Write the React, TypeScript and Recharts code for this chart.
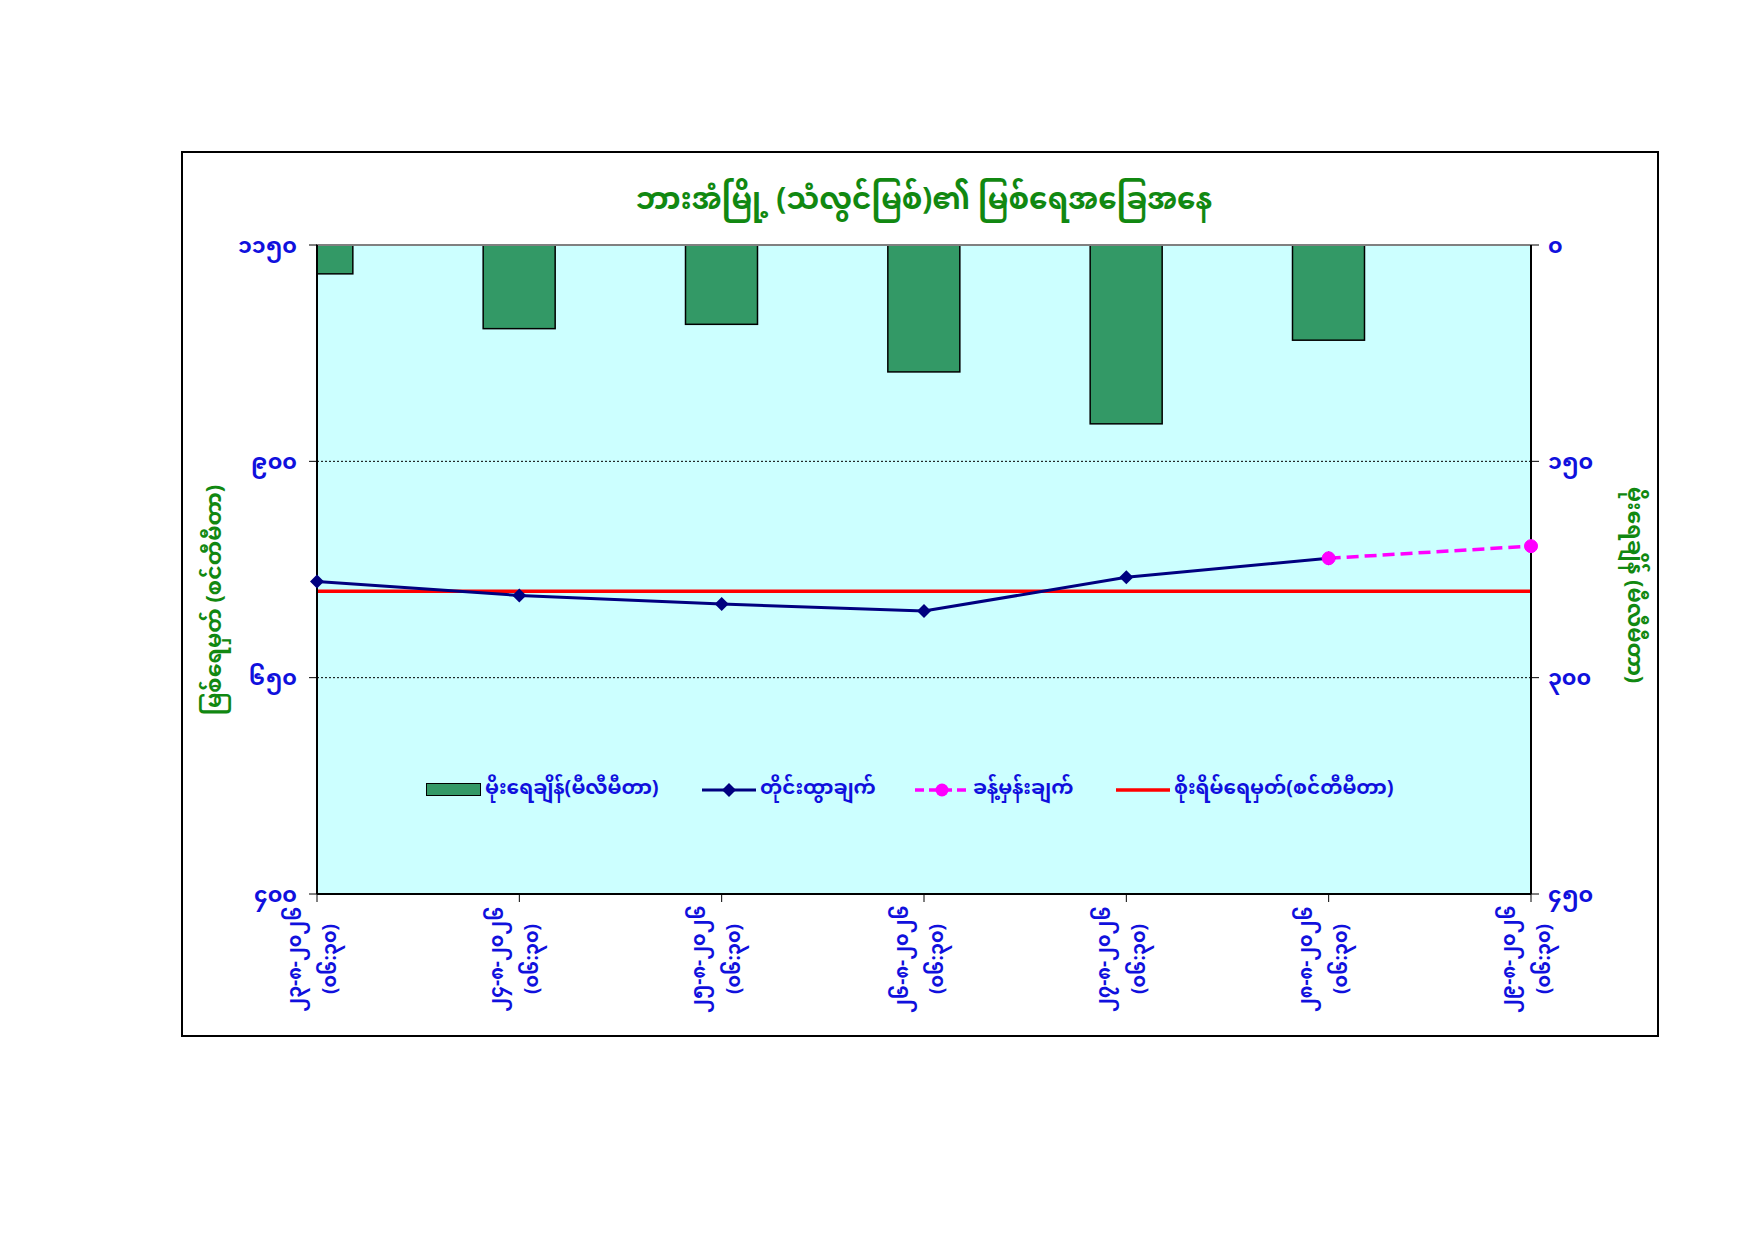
import React from "react";
import {
  ComposedChart,
  Bar,
  Line,
  XAxis,
  YAxis,
  CartesianGrid,
  ReferenceLine,
  Legend,
} from "recharts";

// ---- data ----
const DATES = [
  "၂၃-၈-၂၀၂၆",
  "၂၄-၈-၂၀၂၆",
  "၂၅-၈-၂၀၂၆",
  "၂၆-၈-၂၀၂၆",
  "၂၇-၈-၂၀၂၆",
  "၂၈-၈-၂၀၂၆",
  "၂၉-၈-၂၀၂၆",
];
const TIME_LABEL = "(၀၆:၃၀)";
const RAINFALL = [20, 58, 55, 88, 124, 66, null]; // mm
const WATER_LEVEL = [761, 745, 735, 727, 766, 788, null]; // cm
const FORECAST = [null, null, null, null, null, 788, 802]; // cm
const DANGER_LEVEL = 750; // cm
const LEVEL_TICKS = [400, 650, 900, 1150];
const RAIN_TICKS = [0, 150, 300, 450];

const TITLE = "ဘားအံမြို့ (သံလွင်မြစ်)၏ မြစ်ရေအခြေအနေ";
const LEFT_TITLE = "မြစ်ရေမှတ် (စင်တီမီတာ)";
const RIGHT_TITLE = "မိုးရေချိန် (မီလီမီတာ)";
const LEGEND_NAMES = [
  "မိုးရေချိန်(မီလီမီတာ)",
  "တိုင်းထွာချက်",
  "ခန့်မှန်းချက်",
  "စိုးရိမ်ရေမှတ်(စင်တီမီတာ)",
];

const data = DATES.map((d, i) => ({
  idx: i,
  rain: RAINFALL[i],
  level: WATER_LEVEL[i],
  forecast: FORECAST[i],
  danger: DANGER_LEVEL,
}));

const MM_DIGITS = "၀၁၂၃၄၅၆၇၈၉";
const toMyanmar = (n: number) =>
  String(n).replace(/[0-9]/g, (c) => MM_DIGITS[Number(c)]);

const FONT = "'Noto Sans Myanmar', Padauk, 'Myanmar Text', 'Noto Sans', sans-serif";
const BLUE = "#1010DD";
const GREEN = "#118811";

const W = 1738;
const H = 1225;
const PLOT_LEFT = 309;
const PLOT_RIGHT = 1523;
const AXIS_W = 90;

function XTick({ x, y, payload }: any) {
  const i = payload.value;
  return (
    <g transform={`translate(${x},${y})`}>
      <text
        transform={`translate(-21, 57) rotate(-90)`}
        textAnchor="middle"
        dominantBaseline="central"
        fill={BLUE}
        fontSize={19}
        fontWeight={700}
        fontFamily={FONT}
      >
        {DATES[i]}
      </text>
      <text
        transform={`translate(14, 57) rotate(-90)`}
        textAnchor="middle"
        dominantBaseline="central"
        fill={BLUE}
        fontSize={19}
        fontWeight={700}
        fontFamily={FONT}
      >
        {TIME_LABEL}
      </text>
    </g>
  );
}

function Diamond({ cx, cy }: any) {
  if (cx == null || cy == null) return null;
  const s = 7;
  return (
    <polygon
      points={`${cx},${cy - s} ${cx + s},${cy} ${cx},${cy + s} ${cx - s},${cy}`}
      fill="#000080"
    />
  );
}

function RainBar({ x, y, width, height }: any) {
  if (!height) return null;
  const x0 = Math.max(x, PLOT_LEFT);
  const x1 = Math.min(x + width, PLOT_RIGHT);
  const top = Math.min(y, y + height);
  return (
    <rect
      x={x0}
      y={top}
      width={x1 - x0}
      height={Math.abs(height)}
      fill="#339966"
      stroke="#000"
      strokeWidth={1.5}
    />
  );
}

function LegendBox() {
  const text = {
    color: BLUE,
    fontFamily: FONT,
    fontWeight: 700,
    fontSize: 20,
    whiteSpace: "nowrap" as const,
  };
  const item = { display: "flex", alignItems: "center" };
  return (
    <div style={{ display: "flex", alignItems: "center" }}>
      <div style={{ ...item, width: 276 }}>
        <span style={{ width: 53, height: 11, background: "#339966", border: "1.5px solid #000", marginRight: 4 }} />
        <span style={text}>{LEGEND_NAMES[0]}</span>
      </div>
      <div style={{ ...item, width: 213 }}>
        <svg width={56} height={16} style={{ marginRight: 2 }}>
          <line x1={0} y1={8} x2={54} y2={8} stroke="#000080" strokeWidth={3} />
          <polygon points="27,1 34,8 27,15 20,8" fill="#000080" />
        </svg>
        <span style={text}>{LEGEND_NAMES[1]}</span>
      </div>
      <div style={{ ...item, width: 201 }}>
        <svg width={56} height={16} style={{ marginRight: 2 }}>
          <line x1={0} y1={8} x2={54} y2={8} stroke="#FF00FF" strokeWidth={3.5} strokeDasharray="9 5" />
          <circle cx={27} cy={8} r={6.5} fill="#FF00FF" />
        </svg>
        <span style={text}>{LEGEND_NAMES[2]}</span>
      </div>
      <div style={{ ...item }}>
        <svg width={56} height={16} style={{ marginRight: 2 }}>
          <line x1={0} y1={8} x2={54} y2={8} stroke="#FF0000" strokeWidth={3.5} />
        </svg>
        <span style={text}>{LEGEND_NAMES[3]}</span>
      </div>
    </div>
  );
}

export default function App() {
  return (
    <div style={{ position: "relative", width: W, height: H, fontFamily: FONT }}>
      <div
        style={{
          position: "absolute",
          left: 173,
          top: 143,
          width: 1478,
          height: 886,
          border: "2px solid #000",
          boxSizing: "border-box",
        }}
      />
      <div
        style={{
          position: "absolute",
          left: 0,
          width: 1832,
          top: 162,
          textAlign: "center",
          color: GREEN,
          fontWeight: 700,
          fontSize: 29.5,
          fontFamily: FONT,
        }}
      >
        {TITLE}
      </div>
      <div
        style={{
          position: "absolute",
          left: 208,
          top: 592,
          transform: "translate(-50%, -50%) rotate(-90deg)",
          color: GREEN,
          fontWeight: 700,
          fontSize: 22,
          whiteSpace: "nowrap",
          fontFamily: FONT,
        }}
      >
        {LEFT_TITLE}
      </div>
      <div
        style={{
          position: "absolute",
          left: 1625,
          top: 577,
          transform: "translate(-50%, -50%) rotate(90deg)",
          color: GREEN,
          fontWeight: 700,
          fontSize: 22,
          whiteSpace: "nowrap",
          fontFamily: FONT,
        }}
      >
        {RIGHT_TITLE}
      </div>
      <div style={{ position: "absolute", left: 0, top: 0 }}>
        <ComposedChart
          width={W}
          height={H}
          data={data}
          margin={{ top: 237, left: PLOT_LEFT - AXIS_W, right: W - PLOT_RIGHT - AXIS_W, bottom: 219 }}
        >
          <CartesianGrid
            yAxisId="level"
            xAxisId={0}
            vertical={false}
            fill="#CCFFFF"
            fillOpacity={1}
            stroke="#000"
            strokeDasharray="2 2"
          />
          <XAxis
            dataKey="idx"
            type="number"
            domain={[0, 6]}
            ticks={[0, 1, 2, 3, 4, 5, 6]}
            interval={0}
            height={120}
            tickSize={8}
            tickMargin={0}
            axisLine={{ stroke: "#000", strokeWidth: 2 }}
            tickLine={{ stroke: "#000" }}
            tick={<XTick />}
          />
          <YAxis
            yAxisId="level"
            domain={[400, 1150]}
            ticks={LEVEL_TICKS}
            width={AXIS_W}
            tickSize={8}
            tickMargin={12}
            axisLine={{ stroke: "#000", strokeWidth: 2 }}
            tickLine={{ stroke: "#000" }}
            tickFormatter={toMyanmar}
            tick={{ fill: BLUE, fontSize: 22, fontWeight: 700, fontFamily: FONT }}
          />
          <YAxis
            yAxisId="rain"
            orientation="right"
            reversed
            domain={[0, 450]}
            ticks={RAIN_TICKS}
            width={AXIS_W}
            tickSize={8}
            tickMargin={9}
            axisLine={{ stroke: "#000", strokeWidth: 2 }}
            tickLine={{ stroke: "#000" }}
            tickFormatter={toMyanmar}
            tick={{ fill: BLUE, fontSize: 22, fontWeight: 700, fontFamily: FONT, textAnchor: "start" }}
          />
          <ReferenceLine yAxisId="level" y={1150} stroke="#808080" strokeWidth={2} />
          <Bar
            yAxisId="rain"
            dataKey="rain"
            barSize={72}
            shape={<RainBar />}
            isAnimationActive={false}
          />
          <Line
            yAxisId="level"
            dataKey="danger"
            stroke="#FF0000"
            strokeWidth={3.5}
            dot={false}
            activeDot={false}
            isAnimationActive={false}
          />
          <Line
            yAxisId="level"
            dataKey="level"
            stroke="#000080"
            strokeWidth={3}
            dot={<Diamond />}
            activeDot={false}
            isAnimationActive={false}
          />
          <Line
            yAxisId="level"
            dataKey="forecast"
            stroke="#FF00FF"
            strokeWidth={3.5}
            strokeDasharray="12 6"
            dot={{ r: 6.5, fill: "#FF00FF", stroke: "#FF00FF", strokeWidth: 1, strokeDasharray: "0" }}
            activeDot={false}
            isAnimationActive={false}
          />
          <Legend
            verticalAlign="middle"
            align="center"
            layout="horizontal"
            content={<LegendBox />}
            wrapperStyle={{ position: "absolute", left: 418, top: 760, width: 1100 }}
          />
        </ComposedChart>
      </div>
    </div>
  );
}
